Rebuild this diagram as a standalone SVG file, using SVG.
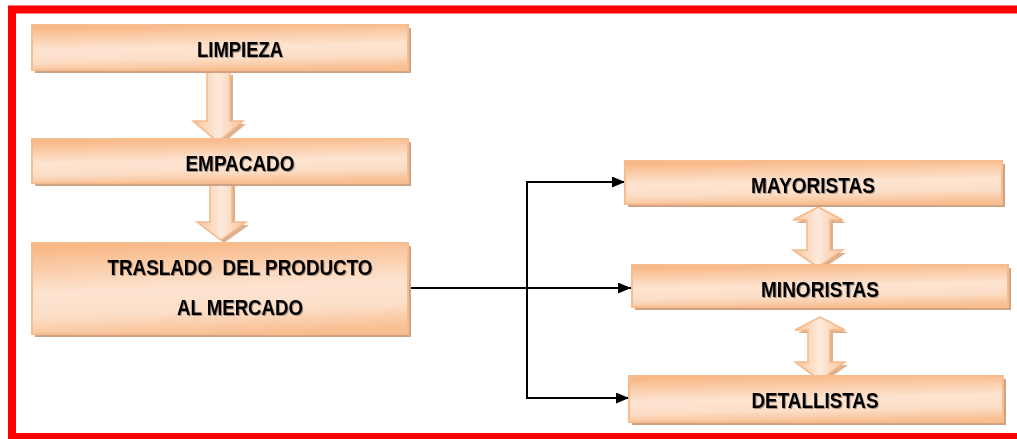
<svg xmlns="http://www.w3.org/2000/svg" width="1017" height="439" viewBox="0 0 1017 439">
  <style>
    .box { fill: url(#boxFill); stroke: #F7BD8E; stroke-width: 2; }
    .shadow { fill: #CFA283; }
    .label { font-family: "Liberation Sans", Arial, sans-serif; font-weight: bold; font-size: 22px; fill: #000; text-anchor: middle; filter: url(#textShadow); white-space: pre; }
    .link { fill: none; stroke: #000; stroke-width: 2; }
    .flow { fill: url(#arrowFill); stroke: #F5B98A; stroke-width: 1.5; }
    .flowShadow { fill: #DDB08F; }
  </style>
  <defs>
    <linearGradient id="boxFill" x1="0.35" y1="0" x2="0.5" y2="1">
      <stop offset="0" stop-color="#F8B886"/>
      <stop offset="0.5" stop-color="#FDE4D1"/>
      <stop offset="0.75" stop-color="#FCDEC7"/>
      <stop offset="1" stop-color="#F8BF92"/>
    </linearGradient>
    <linearGradient id="arrowFill" x1="0" y1="0" x2="1" y2="0">
      <stop offset="0" stop-color="#F9C49A"/>
      <stop offset="0.5" stop-color="#FDEADC"/>
      <stop offset="1" stop-color="#F9C49A"/>
    </linearGradient>
    <filter id="textShadow" x="-10%" y="-30%" width="120%" height="160%">
      <feGaussianBlur in="SourceAlpha" stdDeviation="0.7"/>
      <feOffset dx="1" dy="1" result="s"/>
      <feFlood flood-color="#000" flood-opacity="0.35"/>
      <feComposite in2="s" operator="in"/>
      <feMerge><feMergeNode/><feMergeNode in="SourceGraphic"/></feMerge>
    </filter>
    <marker id="arrowHead" viewBox="0 0 13 11" refX="13" refY="5.5" markerWidth="13" markerHeight="11" markerUnits="userSpaceOnUse" orient="auto">
      <path d="M0,0 L13,5.5 L0,11 Z" fill="#000"/>
    </marker>
  </defs>

  <rect width="1017" height="439" fill="#fff"/>

  <!-- red frame (right side runs off the page) -->
  <path d="M1017,9.5 H12 V437 H1017" fill="none" stroke="#FF0000" stroke-width="8"/>

  <!-- block arrows between stages -->
  <g id="flow-limpieza-empacado">
    <path class="flowShadow" d="M210,75 H233 V124 H246 L221,145 L196,124 H210 Z"/>
    <path class="flow" d="M207,72 H230 V121 H243 L218,142 L193,121 H207 Z"/>
  </g>
  <g id="flow-empacado-traslado">
    <path class="flowShadow" d="M213,186 H235 V225 H249 L224,243 L200,225 H213 Z"/>
    <path class="flow" d="M210,183 H232 V222 H246 L221,240 L197,222 H210 Z"/>
  </g>
  <g id="flow-mayoristas-minoristas">
    <path class="flowShadow" d="M821,210 L846,223 H833 V253 H846 L821,270 L796,253 H810 V223 H796 Z"/>
    <path class="flow" d="M818,207 L843,220 H830 V250 H843 L818,267 L793,250 H807 V220 H793 Z"/>
  </g>
  <g id="flow-minoristas-detallistas">
    <path class="flowShadow" d="M823,320 L848,333 H833 V365 H848 L823,383 L798,365 H811 V333 H798 Z"/>
    <path class="flow" d="M820,317 L845,330 H830 V362 H845 L820,380 L795,362 H808 V330 H795 Z"/>
  </g>

  <!-- distribution connectors -->
  <g id="connectors">
    <path class="link" d="M408,288 H631" marker-end="url(#arrowHead)"/>
    <path class="link" d="M527,288 V182 H625" marker-end="url(#arrowHead)"/>
    <path class="link" d="M527,288 V398 H629" marker-end="url(#arrowHead)"/>
  </g>

  <g id="limpieza">
    <rect class="shadow" x="35" y="28" width="376" height="45"/>
    <rect class="box" x="32" y="25" width="376" height="45"/>
    <text class="label" x="240" y="57" textLength="86" lengthAdjust="spacingAndGlyphs">LIMPIEZA</text>
  </g>

  <g id="empacado">
    <rect class="shadow" x="35" y="142" width="376" height="44"/>
    <rect class="box" x="32" y="139" width="376" height="44"/>
    <text class="label" x="240" y="171" textLength="109" lengthAdjust="spacingAndGlyphs">EMPACADO</text>
  </g>

  <g id="traslado">
    <rect class="shadow" x="35" y="246" width="376" height="91"/>
    <rect class="box" x="32" y="243" width="376" height="91"/>
    <text class="label" x="240" y="275" textLength="265" lengthAdjust="spacingAndGlyphs" xml:space="preserve">TRASLADO  DEL PRODUCTO</text>
    <text class="label" x="240" y="315" textLength="126" lengthAdjust="spacingAndGlyphs">AL MERCADO</text>
  </g>

  <g id="mayoristas">
    <rect class="shadow" x="628" y="164" width="377" height="43"/>
    <rect class="box" x="625" y="161" width="377" height="43"/>
    <text class="label" x="813" y="193" textLength="124" lengthAdjust="spacingAndGlyphs">MAYORISTAS</text>
  </g>

  <g id="minoristas">
    <rect class="shadow" x="635" y="268" width="376" height="42"/>
    <rect class="box" x="632" y="265" width="376" height="42"/>
    <text class="label" x="820" y="297" textLength="118" lengthAdjust="spacingAndGlyphs">MINORISTAS</text>
  </g>

  <g id="detallistas">
    <rect class="shadow" x="632" y="379" width="374" height="46"/>
    <rect class="box" x="629" y="376" width="374" height="46"/>
    <text class="label" x="815" y="408" textLength="127" lengthAdjust="spacingAndGlyphs">DETALLISTAS</text>
  </g>
</svg>
